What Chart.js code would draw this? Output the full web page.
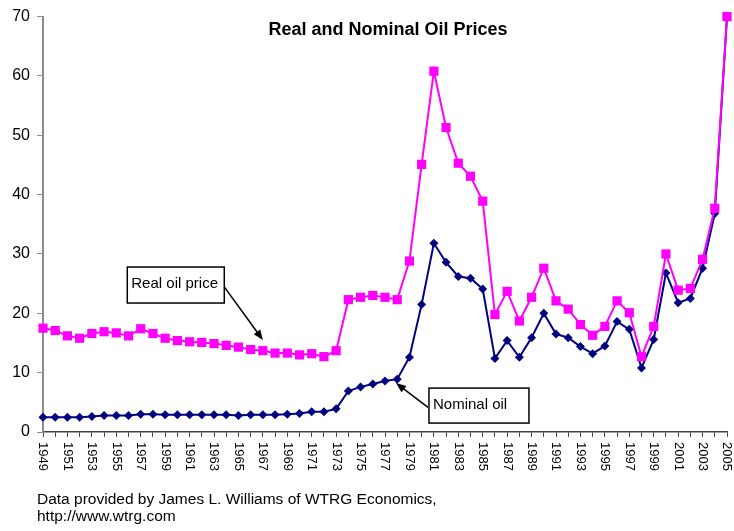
<!DOCTYPE html>
<html>
<head>
<meta charset="utf-8">
<title>Real and Nominal Oil Prices</title>
<script src="https://cdn.jsdelivr.net/npm/chart.js@4"></script>
<style>
    body { margin: 0; background: #fff; }
    #wrap { position: relative; width: 734px; height: 531px; }
    #source {
        position: absolute; left: 37px; top: 490px;
        font: 15.5px Arial, "Liberation Sans", sans-serif; line-height: 17px; color: #000;
    }
</style>
</head>
<body>
<div id="wrap">
    <canvas id="oilChart" width="734" height="531"></canvas>
    <div id="source">Data provided by James L. Williams of WTRG Economics,<br>http://www.wtrg.com</div>
</div>
<script>
const years = [
    '1949', '1950', '1951', '1952', '1953', '1954', '1955', '1956', '1957', '1958', '1959',
    '1960', '1961', '1962', '1963', '1964', '1965', '1966', '1967', '1968', '1969',
    '1970', '1971', '1972', '1973', '1974', '1975', '1976', '1977', '1978', '1979',
    '1980', '1981', '1982', '1983', '1984', '1985', '1986', '1987', '1988', '1989',
    '1990', '1991', '1992', '1993', '1994', '1995', '1996', '1997', '1998', '1999',
    '2000', '2001', '2002', '2003', '2004', '2005'
];

const realPrice = [
    17.5, 17.1, 16.2, 15.8, 16.6, 16.9, 16.7, 16.2, 17.4, 16.6, 15.8,
    15.4, 15.2, 15.1, 14.9, 14.6, 14.3, 13.9, 13.7, 13.3, 13.3,
    13.0, 13.2, 12.7, 13.7, 22.3, 22.7, 23.0, 22.7, 22.3, 28.8,
    45.1, 60.8, 51.3, 45.3, 43.1, 38.9, 19.8, 23.7, 18.7, 22.7,
    27.6, 22.1, 20.7, 18.1, 16.3, 17.8, 22.1, 20.1, 12.7, 17.8,
    30.0, 23.9, 24.2, 29.1, 37.7, 70.0
];

const nominalPrice = [
    2.5, 2.5, 2.5, 2.5, 2.6, 2.8, 2.8, 2.8, 3.0, 3.0, 2.9,
    2.9, 2.9, 2.9, 2.9, 2.9, 2.8, 2.9, 2.9, 2.9, 3.0,
    3.1, 3.4, 3.4, 3.9, 6.9, 7.6, 8.1, 8.6, 8.9, 12.6,
    21.5, 31.8, 28.6, 26.2, 25.9, 24.1, 12.4, 15.4, 12.6, 15.9,
    20.0, 16.5, 15.9, 14.4, 13.2, 14.5, 18.6, 17.3, 10.8, 15.6,
    26.8, 21.8, 22.5, 27.6, 36.8, 70.0
];

const yTicks = [0, 10, 20, 30, 40, 50, 60, 70];

// callouts: box anchored at a (fractional) category index / value, arrow to a data point
const callouts = [
    { text: 'Real oil price', boxAt: [6.9, 27.8], boxSize: [97, 36], tipAt: [18, 15.5], from: 'right' },
    { text: 'Nominal oil', boxAt: [31.6, 7.4], boxSize: [100, 35], tipAt: [28.9, 8.25], from: 'left' }
];

const FONT = 'Arial, "Liberation Sans", sans-serif';

function drawArrow(ctx, x1, y1, x2, y2) {
    const ang = Math.atan2(y2 - y1, x2 - x1);
    const len = 10, half = 4;
    ctx.beginPath();
    ctx.moveTo(x1, y1);
    ctx.lineTo(x2 - Math.cos(ang) * len * 0.8, y2 - Math.sin(ang) * len * 0.8);
    ctx.stroke();
    ctx.beginPath();
    ctx.moveTo(x2, y2);
    ctx.lineTo(x2 - Math.cos(ang) * len - Math.sin(ang) * half, y2 - Math.sin(ang) * len + Math.cos(ang) * half);
    ctx.lineTo(x2 - Math.cos(ang) * len + Math.sin(ang) * half, y2 - Math.sin(ang) * len - Math.cos(ang) * half);
    ctx.closePath();
    ctx.fill();
}

const decorPlugin = {
    id: 'decor',
    afterDraw(chart) {
        const ctx = chart.ctx;
        const xs = chart.scales.x, ys = chart.scales.y, area = chart.chartArea;
        ctx.save();

        // title, drawn inside the plot area like the original
        ctx.fillStyle = '#000';
        ctx.font = 'bold 18px ' + FONT;
        ctx.textAlign = 'center';
        ctx.textBaseline = 'middle';
        ctx.fillText('Real and Nominal Oil Prices', (area.left + area.right) / 2 + 3, 30);

        // year labels, every second year, rotated clockwise
        ctx.font = '13px ' + FONT;
        ctx.textAlign = 'left';
        years.forEach((yr, i) => {
            if (i % 2 !== 0) return;
            ctx.save();
            ctx.translate(xs.getPixelForValue(i), area.bottom + 10);
            ctx.rotate(Math.PI / 2);
            ctx.fillText(yr, 0, 0);
            ctx.restore();
        });

        // callout boxes + arrows
        ctx.font = '15px ' + FONT;
        ctx.lineWidth = 1.5;
        ctx.strokeStyle = '#000';
        callouts.forEach(c => {
            const bx = xs.getPixelForValue(c.boxAt[0]);
            const by = ys.getPixelForValue(c.boxAt[1]);
            const [w, h] = c.boxSize;
            const tx = xs.getPixelForValue(c.tipAt[0]);
            const ty = ys.getPixelForValue(c.tipAt[1]);
            const sx = c.from === 'right' ? bx + w : bx - 1;
            const sy = by + h * 0.55;
            ctx.fillStyle = '#000';
            drawArrow(ctx, sx, sy, tx, ty);
            ctx.fillStyle = '#fff';
            ctx.fillRect(bx, by, w, h);
            ctx.strokeRect(bx, by, w, h);
            ctx.fillStyle = '#000';
            ctx.textBaseline = 'middle';
            ctx.fillText(c.text, bx + 4, by + h / 2 - 1);
        });
        ctx.restore();
    }
};

new Chart(document.getElementById('oilChart').getContext('2d'), {
    type: 'line',
    data: {
        labels: years,
        datasets: [{
            label: 'Real oil price',
            data: realPrice,
            borderColor: '#FF00FF',
            backgroundColor: '#FF00FF',
            borderWidth: 2,
            pointStyle: 'rect',
            pointRadius: 6.5,
            pointBorderWidth: 0,
            tension: 0,
            clip: false
        }, {
            label: 'Nominal oil',
            data: nominalPrice,
            borderColor: '#000080',
            backgroundColor: '#000080',
            borderWidth: 2,
            pointStyle: 'rectRot',
            pointRadius: 4.5,
            pointBorderWidth: 0,
            tension: 0,
            clip: false
        }]
    },
    options: {
        responsive: false,
        animation: false,
        devicePixelRatio: 1,
        layout: { padding: { top: 16, right: 7, bottom: 49, left: 0 } },
        plugins: {
            legend: { display: false },
            title: { display: false },
            tooltip: { enabled: false }
        },
        scales: {
            x: {
                offset: false,
                ticks: { display: false },
                grid: { drawOnChartArea: false, drawTicks: true, tickLength: 5, color: '#444', offset: false },
                border: { color: '#444', width: 1.5 },
                afterFit: (scale) => { scale.height = 50; }
            },
            y: {
                min: 0,
                max: 70,
                afterBuildTicks: (scale) => { scale.ticks = yTicks.map(v => ({ value: v })); },
                ticks: { color: '#000', font: { family: FONT, size: 16 }, padding: 7 },
                grid: { drawOnChartArea: false, drawTicks: true, tickLength: 6, color: '#8c8c8c' },
                border: { color: '#8c8c8c', width: 2 },
                afterFit: (scale) => { scale.width = 43; }
            }
        }
    },
    plugins: [decorPlugin]
});
</script>
</body>
</html>
